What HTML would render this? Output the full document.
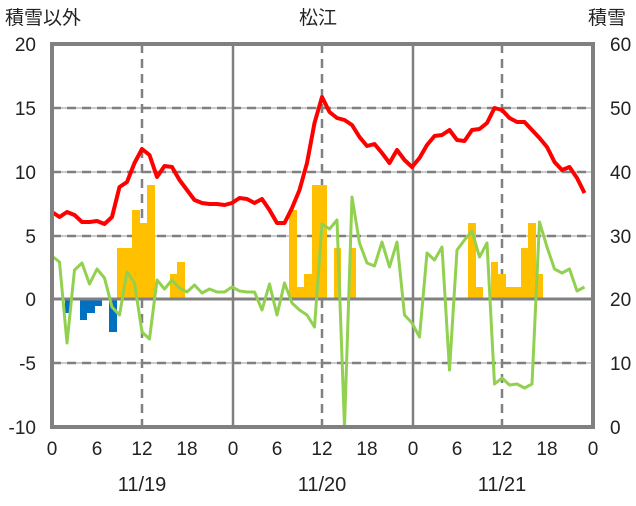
<!DOCTYPE html>
<html><head><meta charset="utf-8"><style>
body{margin:0;background:#fff;}
svg text{font-family:"Liberation Sans","Noto Sans CJK JP",sans-serif;fill:#222;}
</style></head><body>
<svg width="636" height="501" viewBox="0 0 636 501" xmlns="http://www.w3.org/2000/svg">
<g stroke="#bbb" stroke-width="1.5"><line x1="52" y1="108" x2="593" y2="108"/><line x1="52" y1="172" x2="593" y2="172"/><line x1="52" y1="236" x2="593" y2="236"/><line x1="52" y1="363" x2="593" y2="363"/></g>
<g stroke="#808080" stroke-width="2.5" stroke-dasharray="9,6" fill="none">
<line x1="52" y1="108" x2="593" y2="108"/><line x1="52" y1="172" x2="593" y2="172"/><line x1="52" y1="236" x2="593" y2="236"/><line x1="52" y1="363" x2="593" y2="363"/>
<line x1="142" y1="44" x2="142" y2="427"/><line x1="322" y1="44" x2="322" y2="427"/><line x1="502" y1="44" x2="502" y2="427"/>
</g>
<g stroke="#808080" stroke-width="2.5"><line x1="233" y1="44" x2="233" y2="427"/><line x1="413" y1="44" x2="413" y2="427"/></g>
<g fill="#FFC000">
<rect x="117" y="248" width="15" height="51"/><rect x="132" y="210" width="8" height="89"/><rect x="140" y="223" width="7" height="76"/><rect x="147" y="185" width="8" height="114"/>
<rect x="170" y="274" width="7" height="25"/><rect x="177" y="262" width="8" height="37"/>
<rect x="289" y="210" width="8" height="89"/><rect x="297" y="287" width="7" height="12"/><rect x="304" y="274" width="8" height="25"/><rect x="312" y="185" width="15" height="114"/>
<rect x="334" y="248" width="7" height="51"/><rect x="349" y="248" width="7" height="51"/>
<rect x="468" y="223" width="8" height="76"/><rect x="476" y="287" width="7" height="12"/><rect x="491" y="262" width="7" height="37"/><rect x="498" y="274" width="8" height="25"/><rect x="506" y="287" width="15" height="12"/><rect x="521" y="248" width="7" height="51"/><rect x="528" y="223" width="8" height="76"/><rect x="536" y="274" width="7" height="25"/>
</g>
<g fill="#0070C0">
<rect x="65" y="299" width="5" height="14"/><rect x="80" y="299" width="7" height="21"/><rect x="87" y="299" width="8" height="14"/><rect x="95" y="299" width="7" height="7"/><rect x="109" y="299" width="8" height="33"/>
</g>
<line x1="52" y1="299" x2="593" y2="299" stroke="#808080" stroke-width="3"/>
<polyline fill="none" stroke="#92D050" stroke-width="3" stroke-linejoin="round" points="52,256 59.5,262 67,343 74.5,270 82,263 89.5,284 97,269 104.5,278 112,307 119.5,315 127,272 134.5,283 142,332 149.5,339 157,280 164.5,289 172,280 179.5,288 187,292 194.5,285 202,293 209.5,289 217,292 224.5,292 232,287 239.5,291 247,292 254.5,292 262,310 269.5,284 277,315 284.5,283 292,303 299.5,310 307,315 314.5,327 322,224 329.5,229 337,220 344.5,427 352,197 359.5,243 367,263 374.5,266 382,242 389.5,267 397,242 404.5,315 412,323 419.5,337 427,253 434.5,260 442,247 449.5,370 457,250 464.5,240 472,231 479.5,257 487,243 494.5,384 502,378 509.5,385 517,384 524.5,388 532,384 539.5,222 547,247 554.5,269 562,273 569.5,269 577,291 584.5,287"/>
<polyline fill="none" stroke="#FF0000" stroke-width="4" stroke-linejoin="round" points="52,212 59.5,217 67,212 74.5,215 82,222 89.5,222 97,221 104.5,224 112,217 119.5,187 127,182 134.5,163 142,149 149.5,155 157,177 164.5,166 172,167 179.5,180 187,190 194.5,200 202,203 209.5,204 217,204 224.5,205 232,203 239.5,198 247,199 254.5,203 262,199 269.5,210 277,223 284.5,223 292,208 299.5,190 307,163 314.5,123 322,97 329.5,112 337,118 344.5,120 352,125 359.5,137 367,146 374.5,144 382,153 389.5,163 397,150 404.5,160 412,167 419.5,158 427,145 434.5,136 442,135 449.5,130 457,140 464.5,141 472,130 479.5,129 487,123 494.5,108 502,110 509.5,118 517,122 524.5,122 532,130 539.5,138 547,147 554.5,162 562,170 569.5,167 577,178 584.5,193"/>
<rect x="52" y="44" width="541" height="383" fill="none" stroke="#808080" stroke-width="4"/>
<g font-size="19" text-anchor="end">
<text x="36" y="51">20</text><text x="36" y="115">15</text><text x="36" y="179">10</text><text x="36" y="243">5</text><text x="36" y="306">0</text><text x="36" y="370">-5</text><text x="36" y="434">-10</text>
</g>
<g font-size="19" text-anchor="start">
<text x="610" y="51">60</text><text x="610" y="115">50</text><text x="610" y="179">40</text><text x="610" y="243">30</text><text x="610" y="306">20</text><text x="610" y="370">10</text><text x="610" y="434">0</text>
</g>
<g font-size="19" text-anchor="middle">
<text x="52" y="455">0</text><text x="97" y="455">6</text><text x="142" y="455">12</text><text x="187" y="455">18</text><text x="233" y="455">0</text><text x="277" y="455">6</text><text x="322" y="455">12</text><text x="367" y="455">18</text><text x="413" y="455">0</text><text x="457" y="455">6</text><text x="502" y="455">12</text><text x="547" y="455">18</text><text x="593" y="455">0</text>
<text x="318" y="24">松江</text>
</g>
<g font-size="20" text-anchor="middle">
<text x="142" y="491">11/19</text><text x="322" y="491">11/20</text><text x="502" y="491">11/21</text>
</g>
<text x="5" y="24" font-size="19">積雪以外</text>
<text x="588" y="24" font-size="19">積雪</text>
</svg>
</body></html>
